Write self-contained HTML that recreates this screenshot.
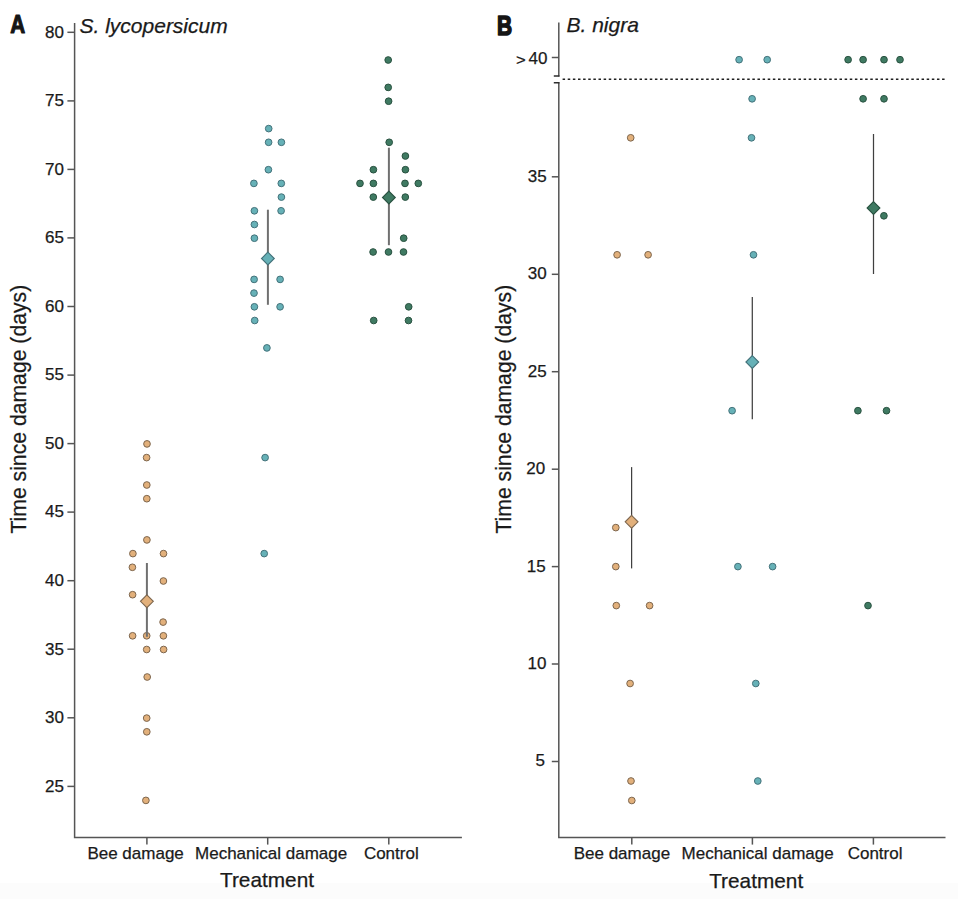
<!DOCTYPE html>
<html lang="en"><head><meta charset="utf-8"><title>Time since damage by treatment</title>
<style>html,body{margin:0;padding:0;background:#fff}body{width:958px;height:899px;overflow:hidden}svg{display:block}text{font-family:"Liberation Sans", sans-serif;fill:#1a1a1a;stroke:#1a1a1a;stroke-width:0.25px}</style>
</head><body>
<svg width="958" height="899" viewBox="0 0 958 899">
<rect x="0" y="0" width="958" height="899" fill="#ffffff"/>
<rect x="0" y="883" width="958" height="16" fill="#fcfcfc"/>
<g stroke="#555555" stroke-width="1.5" fill="none">
<path d="M74.6 23 V837.4 H461.9"/>
<path d="M67.4 786.4 H74.6"/>
<path d="M67.4 717.8 H74.6"/>
<path d="M67.4 649.2 H74.6"/>
<path d="M67.4 580.7 H74.6"/>
<path d="M67.4 512.1 H74.6"/>
<path d="M67.4 443.6 H74.6"/>
<path d="M67.4 375.1 H74.6"/>
<path d="M67.4 306.5 H74.6"/>
<path d="M67.4 237.9 H74.6"/>
<path d="M67.4 169.4 H74.6"/>
<path d="M67.4 100.9 H74.6"/>
<path d="M67.4 32.3 H74.6"/>
<path d="M146.9 837.4 V844.6"/>
<path d="M267.7 837.4 V844.6"/>
<path d="M388.8 837.4 V844.6"/>
<path d="M558.8 22.5 V76.6"/>
<path d="M558.8 82.2 V837.4 H945.5"/>
<path d="M551.8 57.5 H558.8"/>
<path d="M553.8 76 H559.5 M553.8 82.8 H559.5" stroke="#2e2e2e" stroke-width="1.5"/>
<path d="M551.8 761.5 H558.8"/>
<path d="M551.8 664.0 H558.8"/>
<path d="M551.8 566.6 H558.8"/>
<path d="M551.8 469.2 H558.8"/>
<path d="M551.8 371.7 H558.8"/>
<path d="M551.8 274.3 H558.8"/>
<path d="M551.8 176.8 H558.8"/>
<path d="M631.8 837.4 V844.6"/>
<path d="M752.4 837.4 V844.6"/>
<path d="M873.4 837.4 V844.6"/>
</g>
<path d="M562.6 79.2 H944.7" stroke="#1f1f1f" stroke-width="1.4" stroke-dasharray="2.5 2.628" fill="none"/>
<g font-size="17" text-anchor="end">
<text x="63.9" y="791.6">25</text>
<text x="63.9" y="723.0">30</text>
<text x="63.9" y="654.5">35</text>
<text x="63.9" y="585.9">40</text>
<text x="63.9" y="517.4">45</text>
<text x="63.9" y="448.8">50</text>
<text x="63.9" y="380.2">55</text>
<text x="63.9" y="311.7">60</text>
<text x="63.9" y="243.1">65</text>
<text x="63.9" y="174.6">70</text>
<text x="63.9" y="106.1">75</text>
<text x="63.9" y="37.5">80</text>
<text x="544.9" y="766.4">5</text>
<text x="546.4" y="668.9">10</text>
<text x="545.6" y="571.5">15</text>
<text x="545.1" y="474.1">20</text>
<text x="546.6" y="376.6">25</text>
<text x="546.7" y="279.2">30</text>
<text x="546.7" y="181.7">35</text>
<text x="547.4" y="63.6">40</text>
<text transform="translate(525.6 64.5) scale(1 0.87)" font-size="16.6">&gt;</text>
</g>
<g font-size="17" text-anchor="middle">
<text x="135.6" y="858.7">Bee damage</text>
<text x="271.1" y="858.7">Mechanical damage</text>
<text x="391.3" y="858.7">Control</text>
<text x="621.9" y="858.7">Bee damage</text>
<text x="757.6" y="858.7">Mechanical damage</text>
<text x="875.1" y="858.7">Control</text>
</g>
<g font-size="20.8" text-anchor="middle">
<text x="267" y="887.3">Treatment</text>
<text x="756.2" y="887.5">Treatment</text>
<text transform="translate(25.5 409.2) rotate(-90)" font-size="21.2">Time since damage (days)</text>
<text transform="translate(511.4 409.2) rotate(-90)" font-size="21.2">Time since damage (days)</text>
</g>
<g font-size="21" font-style="italic">
<text x="79.5" y="32.7">S. lycopersicum</text>
<text x="566.5" y="32.4">B. nigra</text>
</g>
<g font-size="25.4" font-weight="bold" stroke="#151515" stroke-width="1.6" stroke-linejoin="round">
<text transform="translate(10.3 32.6) scale(0.79 1)" font-size="26.2" style="fill:#151515;stroke:#151515;stroke-width:1.2px">A</text>
<text transform="translate(496.9 34.5) scale(0.78 1)" font-size="26.8" style="fill:#151515;stroke:#151515;stroke-width:1.6px">B</text>
</g>
<g fill="#e2b07b" stroke="#7d664e" stroke-width="1">
<circle cx="147.0" cy="443.9" r="3.35"/>
<circle cx="146.6" cy="457.6" r="3.35"/>
<circle cx="146.8" cy="485.0" r="3.35"/>
<circle cx="146.8" cy="498.7" r="3.35"/>
<circle cx="146.9" cy="539.9" r="3.35"/>
<circle cx="132.9" cy="553.6" r="3.35"/>
<circle cx="163.5" cy="553.6" r="3.35"/>
<circle cx="132.4" cy="567.3" r="3.35"/>
<circle cx="163.4" cy="581.0" r="3.35"/>
<circle cx="132.6" cy="594.7" r="3.35"/>
<circle cx="163.1" cy="622.1" r="3.35"/>
<circle cx="132.6" cy="635.8" r="3.35"/>
<circle cx="146.7" cy="635.8" r="3.35"/>
<circle cx="163.4" cy="635.8" r="3.35"/>
<circle cx="146.7" cy="649.5" r="3.35"/>
<circle cx="163.6" cy="649.5" r="3.35"/>
<circle cx="147.2" cy="677.0" r="3.35"/>
<circle cx="146.7" cy="718.1" r="3.35"/>
<circle cx="146.8" cy="731.8" r="3.35"/>
<circle cx="145.9" cy="800.4" r="3.35"/>
</g>
<g fill="#66b1b7" stroke="#44727a" stroke-width="1">
<circle cx="268.7" cy="128.6" r="3.35"/>
<circle cx="268.6" cy="142.3" r="3.35"/>
<circle cx="281.4" cy="142.3" r="3.35"/>
<circle cx="268.4" cy="169.7" r="3.35"/>
<circle cx="253.9" cy="183.4" r="3.35"/>
<circle cx="281.3" cy="183.4" r="3.35"/>
<circle cx="281.4" cy="197.1" r="3.35"/>
<circle cx="254.4" cy="210.8" r="3.35"/>
<circle cx="281.1" cy="210.8" r="3.35"/>
<circle cx="254.4" cy="224.5" r="3.35"/>
<circle cx="254.4" cy="238.2" r="3.35"/>
<circle cx="254.1" cy="279.4" r="3.35"/>
<circle cx="280.1" cy="279.4" r="3.35"/>
<circle cx="254.0" cy="293.1" r="3.35"/>
<circle cx="254.4" cy="306.8" r="3.35"/>
<circle cx="280.1" cy="306.8" r="3.35"/>
<circle cx="254.7" cy="320.5" r="3.35"/>
<circle cx="266.9" cy="347.9" r="3.35"/>
<circle cx="265.1" cy="457.6" r="3.35"/>
<circle cx="264.2" cy="553.6" r="3.35"/>
</g>
<g fill="#3f7a62" stroke="#2a5241" stroke-width="1">
<circle cx="388.2" cy="60.0" r="3.35"/>
<circle cx="388.2" cy="87.4" r="3.35"/>
<circle cx="388.6" cy="101.2" r="3.35"/>
<circle cx="389.2" cy="142.3" r="3.35"/>
<circle cx="405.4" cy="156.0" r="3.35"/>
<circle cx="373.4" cy="169.7" r="3.35"/>
<circle cx="405.4" cy="169.7" r="3.35"/>
<circle cx="360.0" cy="183.4" r="3.35"/>
<circle cx="373.4" cy="183.4" r="3.35"/>
<circle cx="405.0" cy="183.4" r="3.35"/>
<circle cx="418.3" cy="183.4" r="3.35"/>
<circle cx="373.3" cy="197.1" r="3.35"/>
<circle cx="405.3" cy="197.1" r="3.35"/>
<circle cx="403.7" cy="238.2" r="3.35"/>
<circle cx="373.1" cy="252.0" r="3.35"/>
<circle cx="388.5" cy="252.0" r="3.35"/>
<circle cx="403.5" cy="252.0" r="3.35"/>
<circle cx="408.7" cy="306.8" r="3.35"/>
<circle cx="373.7" cy="320.5" r="3.35"/>
<circle cx="408.5" cy="320.5" r="3.35"/>
</g>
<path d="M146.9 563.0 V636.8" stroke="#707070" stroke-width="2" fill="none"/>
<path d="M146.9 594.9 L153.3 601.3 L146.9 607.7 L140.5 601.3 Z" fill="#e2b07b" stroke="#7d664e" stroke-width="1.1"/>
<path d="M267.9 209.7 V304.8" stroke="#707070" stroke-width="2" fill="none"/>
<path d="M267.9 252.1 L274.3 258.5 L267.9 264.9 L261.5 258.5 Z" fill="#66b1b7" stroke="#44727a" stroke-width="1.1"/>
<path d="M388.9 147.7 V245.2" stroke="#707070" stroke-width="2" fill="none"/>
<path d="M388.9 191.1 L395.3 197.5 L388.9 203.9 L382.5 197.5 Z" fill="#3f7a62" stroke="#2a5241" stroke-width="1.1"/>
<g fill="#e2b07b" stroke="#7d664e" stroke-width="1">
<circle cx="630.7" cy="137.8" r="3.35"/>
<circle cx="617.1" cy="254.8" r="3.35"/>
<circle cx="648.1" cy="254.8" r="3.35"/>
<circle cx="615.8" cy="527.6" r="3.35"/>
<circle cx="615.8" cy="566.6" r="3.35"/>
<circle cx="616.3" cy="605.6" r="3.35"/>
<circle cx="649.6" cy="605.6" r="3.35"/>
<circle cx="630.1" cy="683.5" r="3.35"/>
<circle cx="631.0" cy="781.0" r="3.35"/>
<circle cx="631.8" cy="800.5" r="3.35"/>
</g>
<g fill="#66b1b7" stroke="#44727a" stroke-width="1">
<circle cx="739.1" cy="59.7" r="3.35"/>
<circle cx="767.2" cy="59.7" r="3.35"/>
<circle cx="752.1" cy="98.8" r="3.35"/>
<circle cx="751.5" cy="137.8" r="3.35"/>
<circle cx="753.5" cy="254.8" r="3.35"/>
<circle cx="732.1" cy="410.7" r="3.35"/>
<circle cx="737.9" cy="566.6" r="3.35"/>
<circle cx="772.6" cy="566.6" r="3.35"/>
<circle cx="755.8" cy="683.5" r="3.35"/>
<circle cx="757.8" cy="781.0" r="3.35"/>
</g>
<g fill="#3f7a62" stroke="#2a5241" stroke-width="1">
<circle cx="848.1" cy="59.7" r="3.35"/>
<circle cx="863.1" cy="59.7" r="3.35"/>
<circle cx="884.0" cy="59.7" r="3.35"/>
<circle cx="900.0" cy="59.7" r="3.35"/>
<circle cx="863.1" cy="98.8" r="3.35"/>
<circle cx="884.0" cy="98.8" r="3.35"/>
<circle cx="883.9" cy="215.8" r="3.35"/>
<circle cx="857.9" cy="410.7" r="3.35"/>
<circle cx="886.5" cy="410.7" r="3.35"/>
<circle cx="868.0" cy="605.6" r="3.35"/>
</g>
<path d="M631.6 467.1 V568.4" stroke="#404040" stroke-width="1.25" fill="none"/>
<path d="M631.6 515.4 L638.0 521.8 L631.6 528.2 L625.2 521.8 Z" fill="#e2b07b" stroke="#7d664e" stroke-width="1.1"/>
<path d="M752.3 297.1 V419.2" stroke="#404040" stroke-width="1.25" fill="none"/>
<path d="M752.3 355.6 L758.7 362.0 L752.3 368.4 L745.9 362.0 Z" fill="#66b1b7" stroke="#44727a" stroke-width="1.1"/>
<path d="M873.5 134.0 V274.0" stroke="#404040" stroke-width="1.25" fill="none"/>
<path d="M873.5 201.6 L879.9 208.0 L873.5 214.4 L867.1 208.0 Z" fill="#3f7a62" stroke="#2a5241" stroke-width="1.1"/>
</svg></body></html>
